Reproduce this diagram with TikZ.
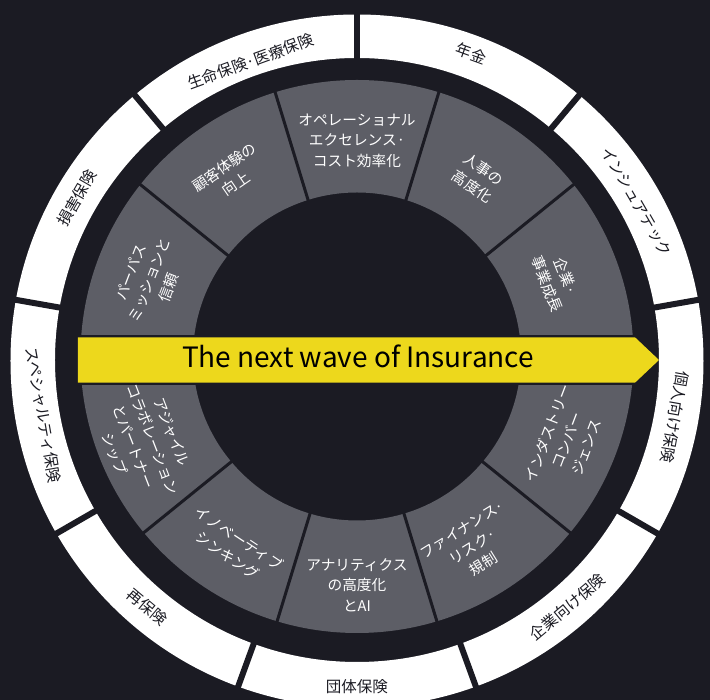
\documentclass[tikz,border=0pt]{standalone}
\usepackage{fontspec}
\setmainfont{Noto Sans CJK JP}
\definecolor{bgc}{HTML}{1B1B23}
\definecolor{greyc}{HTML}{5D5E66}
\definecolor{yel}{HTML}{EDD81C}
\begin{document}
\begin{tikzpicture}[x=1pt,y=1pt,
  seg/.style={text=white, align=center, font=\fontsize{14.7}{20.5}\selectfont, inner sep=0pt},
  ringtxt/.style={text=bgc, font=\fontsize{15.5}{18}\selectfont, inner sep=0pt}]
\useasboundingbox (-357,-340) rectangle (353,360);
\fill[bgc] (-357,-340) rectangle (353,360);
% outer white ring
\fill[white,even odd rule] (0,-1) circle[radius=346.5] (0,0) circle[radius=302];
\foreach \a in {90,50,10,-30,-70,-110,-150,170,130}
  \draw[bgc,line width=6pt] (\a:296) -- (\a:352);
% grey ring
\fill[greyc,even odd rule] (0,3.5) circle[radius=276.5] (0,3.5) circle[radius=164];
\foreach \a in {39,73,107,141,-39,-73,-107,-141}
  \draw[bgc,line width=3pt] (\a:150) -- (\a:290);
% band and banner
\fill[bgc] (-290,-25) rectangle (290,25);
\fill[yel] (-279,22.7) -- (278,22.7) -- (302,0) -- (278,-22.7) -- (-279,-22.7) -- cycle;
\node[font=\fontsize{28}{30}\selectfont, text=black, anchor=base, inner sep=0pt] (title) at (1,-7.3) {The next wave of Insurance};
% grey segment texts
\node[seg] (s1) at (90:219.5) {オペレーショナル\\エクセレンス·\\コスト効率化};
\node[seg, rotate=-33.6] (s2) at (56.4:218.6) {人事の\\高度化};
\node[seg, rotate=-68.2] (s3) at (21.8:215) {企業·\\事業成長};
\node[seg, rotate=34.5] (s4) at (124.5:224) {顧客体験の\\向上};
\node[seg, rotate=68.9] (s5) at (158.9:222) {パーパス\\ミッションと\\信頼};
\node[seg] (s6) at (-90:225) {アナリティクス\\の高度化\\とAI};
\node[seg, rotate=31.8] (s7) at (-58.2:220) {ファイナンス·\\リスク·\\規制};
\node[seg, rotate=69.1] (s8) at (-20.9:224.7) {インダストリー\\コンバー\\ジェンス};
\node[seg, rotate=-33.5] (s9) at (-123.5:224) {イノベーティブ\\シンキング};
\node[seg, rotate=-68.8] (s10) at (-158.8:229.5) {アジャイル\\コラボレーション\\とパートナー\\シップ};
% ring texts
\node[ringtxt, rotate=-20] (r1) at (69.5:327) {年金};
\node[ringtxt, rotate=20] (r2) at (109.6:317) {生命保険·医療保険};
\node[ringtxt, rotate=60] (r3) at (150:323.6) {損害保険};
\node[ringtxt, rotate=-60] (r4) at (29.5:321.4) {インシュアテック};
\node[ringtxt, rotate=-100] (r5) at (-10.2:323) {個人向け保険};
\node[ringtxt, rotate=40] (r6) at (-49.6:324.7) {企業向け保険};
\node[ringtxt] (r7) at (-90:326.7) {団体保険};
\node[ringtxt, rotate=-40] (r8) at (-130.4:324) {再保険};
\node[ringtxt, rotate=-80] (r9) at (-170:318.5) {スペシャルティ保険};
\end{tikzpicture}
\end{document}
